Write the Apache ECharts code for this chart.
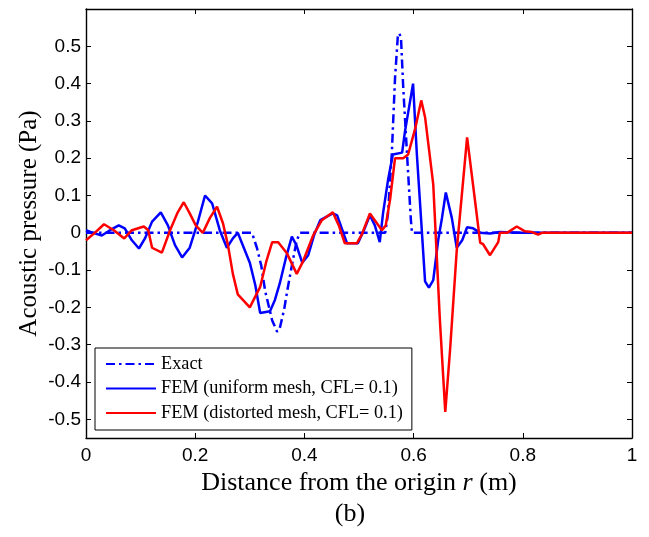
<!DOCTYPE html>
<html>
<head>
<meta charset="utf-8">
<script src="https://cdn.jsdelivr.net/npm/echarts@6/dist/echarts.min.js"></script>
<style>
    html, body { margin: 0; padding: 0; background: #fff; }
    #chart { width: 649px; height: 537px; }
</style>
</head>
<body>
<div id="chart"></div>
<script>
    // tick values
    var xTicks = [0, 0.2, 0.4, 0.6, 0.8, 1];
    var yTicks = [-0.5, -0.4, -0.3, -0.2, -0.1, 0, 0.1, 0.2, 0.3, 0.4, 0.5];

    // exact solution
    var xExact = [0, 0.304, 0.313, 0.321, 0.328, 0.341, 0.350, 0.355, 0.363, 0.368, 0.377, 0.386, 0.392,
        0.548, 0.553, 0.560, 0.566, 0.571, 0.574, 0.577, 0.581, 0.588, 0.595, 0.597, 1];
    var yExact = [0, 0, -0.04, -0.088, -0.155, -0.235, -0.265, -0.255, -0.205, -0.16, -0.088, -0.02, 0,
        0, 0.05, 0.21, 0.415, 0.525, 0.535, 0.52, 0.39, 0.21, 0.035, 0, 0];

    // FEM, uniform mesh
    var xUniform = [0, 0.013, 0.029, 0.044, 0.060, 0.071, 0.084, 0.097, 0.108, 0.121, 0.137, 0.150, 0.163,
        0.176, 0.190, 0.205, 0.218, 0.231, 0.245, 0.258, 0.269, 0.278, 0.289, 0.300, 0.310, 0.319, 0.337,
        0.346, 0.355, 0.366, 0.377, 0.385, 0.396, 0.407, 0.418, 0.429, 0.452, 0.460, 0.478, 0.498, 0.509,
        0.520, 0.529, 0.538, 0.544, 0.553, 0.562, 0.579, 0.584, 0.599, 0.606, 0.614, 0.621, 0.628, 0.636,
        0.645, 0.652, 0.659, 0.670, 0.679, 0.689, 0.698, 0.709, 0.722, 0.740, 0.758, 0.795, 1];
    var yUniform = [0.007, 0, -0.007, 0.007, 0.02, 0.012, -0.02, -0.042, -0.015, 0.03, 0.055, 0.02, -0.033,
        -0.066, -0.04, 0.03, 0.10, 0.079, 0.007, -0.04, -0.015, 0, -0.04, -0.08, -0.14, -0.215, -0.21,
        -0.18, -0.135, -0.068, -0.01, -0.032, -0.08, -0.06, -0.005, 0.034, 0.052, 0.047, -0.028, -0.028, 0.007,
        0.047, 0.02, -0.025, 0.052, 0.14, 0.21, 0.215, 0.27, 0.40, 0.21, 0.03, -0.13, -0.147, -0.127,
        -0.02, 0.04, 0.108, 0.04, -0.04, -0.02, 0.015, 0.012, 0, -0.002, 0.002, 0, 0];

    // FEM, distorted mesh
    var xDistorted = [0, 0.016, 0.033, 0.051, 0.070, 0.084, 0.106, 0.114, 0.121, 0.139, 0.154, 0.168, 0.179,
        0.190, 0.201, 0.214, 0.227, 0.240, 0.251, 0.260, 0.269, 0.278, 0.300, 0.319, 0.330, 0.341, 0.352,
        0.368, 0.386, 0.397, 0.416, 0.432, 0.452, 0.463, 0.474, 0.496, 0.505, 0.520, 0.542, 0.549, 0.557,
        0.566, 0.581, 0.590, 0.603, 0.614, 0.621, 0.636, 0.648, 0.658, 0.667, 0.679, 0.698, 0.712, 0.722,
        0.727, 0.740, 0.755, 0.758, 0.771, 0.789, 0.804, 0.817, 0.828, 0.835, 1];
    var yDistorted = [-0.02, 0, 0.023, 0.007, -0.015, 0.007, 0.017, 0.007, -0.04, -0.053, 0.007, 0.055, 0.082,
        0.052, 0.02, 0, 0.04, 0.07, 0.025, -0.033, -0.11, -0.165, -0.2, -0.145, -0.078, -0.025, -0.025,
        -0.055, -0.11, -0.078, -0.007, 0.034, 0.055, 0.02, -0.028, -0.028, -0.005, 0.052, 0.007, 0.02, 0.09,
        0.2, 0.2, 0.21, 0.28, 0.355, 0.31, 0.13, -0.23, -0.48, -0.31, -0.047, 0.256, 0.092, -0.027,
        -0.03, -0.06, -0.025, 0, 0, 0.017, 0.004, 0.002, -0.005, 0, 0];

    function zip(xs, ys) {
        return xs.map(function (x, i) { return [x, ys[i]]; });
    }

    var chart = echarts.init(document.getElementById('chart'));

    var tickFont = {fontFamily: 'Liberation Sans', fontSize: 19, color: '#000'};
    var blackLine = {show: true, onZero: false, lineStyle: {color: '#000', width: 1.4}};
    var innerTick = {inside: true, length: 5, lineStyle: {color: '#000'}};

    var option = {
        animation: false,
        grid: {left: 86, top: 9, right: 17, bottom: 99},
        legend: {
            orient: 'vertical',
            left: 95,
            top: 348,
            padding: [7, 9, 8, 10],
            itemWidth: 50,
            itemHeight: 18,
            itemGap: 6.5,
            backgroundColor: '#fff',
            borderColor: '#000',
            borderWidth: 1,
            borderRadius: 0,
            itemStyle: {opacity: 0},
            textStyle: {fontFamily: 'Liberation Serif', fontSize: 18.3, color: '#000'},
            data: ['Exact', 'FEM (uniform mesh, CFL= 0.1)', 'FEM (distorted mesh, CFL= 0.1)']
        },
        xAxis: [
            {
                type: 'value',
                min: 0,
                max: 1,
                interval: 0.2,
                position: 'bottom',
                name: 'Distance from the origin {i|r} (m)',
                nameLocation: 'middle',
                nameGap: 31,
                nameTextStyle: {
                    fontFamily: 'Liberation Serif', fontSize: 26, color: '#000',
                    rich: {i: {fontFamily: 'Liberation Serif', fontSize: 26, fontStyle: 'italic', color: '#000'}}
                },
                axisLine: blackLine,
                axisTick: innerTick,
                axisLabel: Object.assign({margin: 8, formatter: function (v) { return v === 0 || v === 1 ? String(v) : v.toFixed(1); }}, tickFont),
                splitLine: {show: false}
            },
            {
                type: 'value',
                min: 0,
                max: 1,
                interval: 0.2,
                position: 'top',
                axisLine: blackLine,
                axisTick: innerTick,
                axisLabel: {show: false},
                splitLine: {show: false}
            }
        ],
        yAxis: [
            {
                type: 'value',
                min: -0.55,
                max: 0.6,
                position: 'left',
                name: 'Acoustic pressure (Pa)',
                nameLocation: 'middle',
                nameGap: 44,
                nameMoveOverlap: false,
                nameTextStyle: {fontFamily: 'Liberation Serif', fontSize: 25, color: '#000'},
                axisLine: blackLine,
                axisTick: Object.assign({customValues: yTicks}, innerTick),
                axisLabel: Object.assign({margin: 5, customValues: yTicks, formatter: function (v) { return Math.abs(v) < 1e-9 ? '0' : v.toFixed(1); }}, tickFont),
                splitLine: {show: false}
            },
            {
                type: 'value',
                min: -0.55,
                max: 0.6,
                position: 'right',
                axisLine: blackLine,
                axisTick: Object.assign({customValues: yTicks}, innerTick),
                axisLabel: {show: false},
                splitLine: {show: false}
            }
        ],
        graphic: [
            {
                type: 'text',
                x: 350,
                y: 514,
                style: {text: '(b)', align: 'center', verticalAlign: 'middle', fontFamily: 'Liberation Serif', fontSize: 26, fill: '#000'}
            }
        ],
        series: [
            {
                name: 'Exact',
                type: 'line',
                symbol: 'none',
                data: zip(xExact, yExact),
                lineStyle: {color: '#0000ff', width: 2.5, type: [9, 4, 2.5, 4]},
                itemStyle: {color: '#0000ff'}
            },
            {
                name: 'FEM (uniform mesh, CFL= 0.1)',
                type: 'line',
                symbol: 'none',
                data: zip(xUniform, yUniform),
                lineStyle: {color: '#0000ff', width: 2.5},
                itemStyle: {color: '#0000ff'}
            },
            {
                name: 'FEM (distorted mesh, CFL= 0.1)',
                type: 'line',
                symbol: 'none',
                data: zip(xDistorted, yDistorted),
                lineStyle: {color: '#ff0000', width: 2.5},
                itemStyle: {color: '#ff0000'}
            }
        ]
    };
    chart.setOption(option);
</script>
</body>
</html>
